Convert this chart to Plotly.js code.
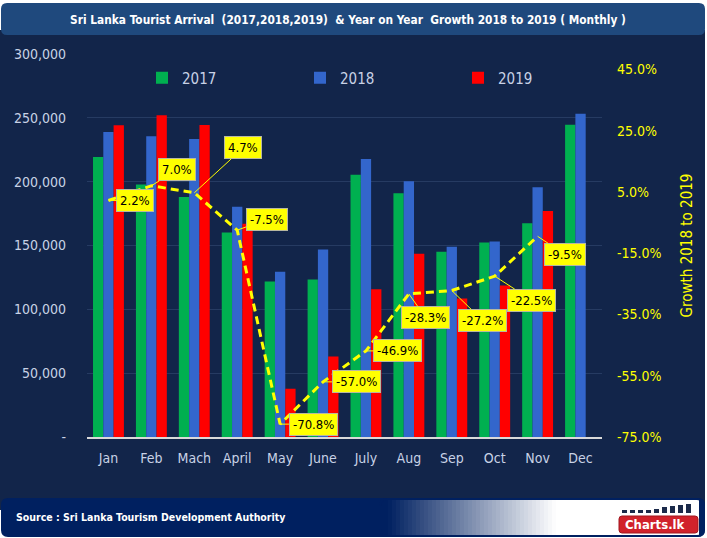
<!DOCTYPE html>
<html>
<head>
<meta charset="utf-8">
<script src="https://cdn.plot.ly/plotly-3.0.1.min.js"></script>
<style>
  html, body { margin: 0; padding: 0; background: #ffffff; }
  #chart { width: 707px; height: 538px; }
</style>
</head>
<body>
<div id="chart"></div>
<script>
// ---- data ----
const months = ['Jan','Feb','Mach','April','May','June','July','Aug','Sep','Oct','Nov','Dec'];
const arrivals2017 = [219360,197697,188076,160249,121891,123351,205482,190928,145077,152429,167511,244536];
const arrivals2018 = [238924,235618,233382,180429,129466,146828,217829,200359,149087,153123,195582,253169];
const arrivals2019 = [244239,252033,244328,166975,37802,63072,115701,143587,108575,118743,176984];
const growthMonths = ['Jan','Feb','Mach','April','May','June','July','Aug','Sep','Oct','Nov'];
const growth2018to2019 = [2.2,7.0,4.7,-7.5,-70.8,-57.0,-46.9,-28.3,-27.2,-22.5,-9.5];
const leftTickVals = [0,50000,100000,150000,200000,250000,300000];
const leftTickText = ['-','50,000','100,000','150,000','200,000','250,000','300,000'];
const rightTickVals = [-75,-55,-35,-15,5,25,45];

// ---- label offsets (pixels) for data labels ----
const labelOffsets = [[27,0],[26,-16],[49,-45],[30,-11],[33,0],[33,0],[32,0],[17,24],[31,30],[37,24],[27,18]];

// ---- layout geometry helpers ----
const W = 707, H = 538;
const PL = 87, PR = 602, PT = 54, PB = 437;
const fx = p => (p - PL) / (PR - PL);
const fy = p => (PB - p) / (PB - PT);
function rrect(x0, y0, x1, y1, r) {
  const P = (x, y) => fx(x) + ',' + fy(y);
  return 'M' + P(x0 + r, y0) + ' L' + P(x1 - r, y0) + ' Q' + P(x1, y0) + ' ' + P(x1, y0 + r) +
         ' L' + P(x1, y1 - r) + ' Q' + P(x1, y1) + ' ' + P(x1 - r, y1) +
         ' L' + P(x0 + r, y1) + ' Q' + P(x0, y1) + ' ' + P(x0, y1 - r) +
         ' L' + P(x0, y0 + r) + ' Q' + P(x0, y0) + ' ' + P(x0 + r, y0) + ' Z';
}
function rect(x0, y0, x1, y1, color, layer) {
  return {type:'rect', xref:'paper', yref:'paper', x0:fx(x0), x1:fx(x1), y0:fy(y1), y1:fy(y0),
          fillcolor:color, line:{width:0}, layer: layer || 'below'};
}

const FONT = "'DejaVu Sans Condensed', 'Roboto', sans-serif";
const TICKFONT = "'DejaVu Sans Condensed', 'Roboto', sans-serif";
const panel = '#12254a';

const shapes = [];
// dark panel
shapes.push(rect(0, 30, 705, 510, panel));
// title bar
shapes.push({type:'path', xref:'paper', yref:'paper', path: rrect(1, 3, 705, 35, 6),
             fillcolor:'#1f497d', line:{width:0}, layer:'below'});
// footer
shapes.push({type:'path', xref:'paper', yref:'paper', path: rrect(1, 498, 705, 537, 7),
             fillcolor:'#002060', line:{width:0}, layer:'below'});
const g0 = 388, g1 = 556, steps = 42;
for (let i = 0; i < steps; i++) {
  const t = (i + 0.5) / steps;
  const c = [0, 32, 96].map(v => Math.round(v + (255 - v) * t));
  shapes.push(rect(g0 + (g1 - g0) * i / steps, 499.5, g0 + (g1 - g0) * (i + 1) / steps + 0.6, 535.5,
              'rgb(' + c.join(',') + ')'));
}
shapes.push(rect(g1, 499.5, 699, 535.5, '#ffffff'));
shapes.push({type:'path', xref:'paper', yref:'paper', path: rrect(380, 499, 704, 536, 7),
             fillcolor:'rgba(0,0,0,0)', line:{color:'#002060', width:2}, layer:'below'});
// logo
shapes.push({type:'path', xref:'paper', yref:'paper', path: rrect(619, 516, 698, 533, 3),
             fillcolor:'#d1222b', line:{color:'#a01820', width:1}, layer:'above'});
const logoBars = [[622,3],[630,3],[638,3],[646,3],[654,4],[662,6],[670,7],[678,8],[686,9]];
logoBars.forEach(b => shapes.push(rect(b[0], 513 - b[1], b[0] + 5, 513, '#1b2a4a', 'above')));

const annotations = growth2018to2019.map((v, i) => ({
  x: growthMonths[i], y: v, xref:'x', yref:'y2',
  text: v.toFixed(1) + '%',
  showarrow: true, arrowhead: 0, arrowwidth: 1, arrowcolor: '#ffff00', standoff: 0,
  ax: labelOffsets[i][0], ay: labelOffsets[i][1],
  bgcolor: '#ffff00', bordercolor: '#b8b8a0', borderwidth: 1, borderpad: 3,
  font: {family: TICKFONT, size: 13, color: '#000000'}
}));
annotations.push({xref:'paper', yref:'paper', x: fx(14), y: fy(517), xanchor:'left', yanchor:'middle',
  text:'<b>Source : Sri Lanka Tourism Development Authority</b>', showarrow:false,
  font:{family: FONT, size: 10.5, color:'#ffffff'}});
annotations.push({xref:'paper', yref:'paper', x: fx(655), y: fy(524.5), xanchor:'center', yanchor:'middle',
  text:'<b>Charts.lk</b>', showarrow:false, font:{family: FONT, size: 13, color:'#ffffff'}});

const traces = [
  {type:'bar', name:'2017', x: months, y: arrivals2017, marker:{color:'#00b050'}},
  {type:'bar', name:'2018', x: months, y: arrivals2018, marker:{color:'#3366cc'}},
  {type:'bar', name:'2019', x: months, y: arrivals2019, marker:{color:'#ff0000'}},
  {type:'scatter', mode:'lines', name:'Growth', x: growthMonths, y: growth2018to2019, yaxis:'y2',
   line:{color:'#ffff00', width:3, dash:'8px,5px'}, showlegend:false}
];

const layout = {
  width: W, height: H,
  margin: {l: PL, r: W - PR, t: PT, b: H - PB, pad: 0},
  paper_bgcolor: '#ffffff', plot_bgcolor: 'rgba(0,0,0,0)',
  font: {family: TICKFONT, color: '#c8d2e6'},
  title: {text: '<b>Sri Lanka Tourist Arrival \u00a0(2017,2018,2019) \u00a0& Year on Year \u00a0Growth 2018 to 2019 ( Monthly )</b>',
          x: 348 / W, xanchor:'center', xref:'container', y: 1 - 20 / H, yanchor:'middle', yref:'container',
          font: {family: FONT, size: 11.8, color: '#ffffff'}},
  barmode: 'group', bargap: 0.28, bargroupgap: 0,
  xaxis: {type:'category', categoryorder:'array', categoryarray: months,
          showline: true, linecolor:'#d9d9d9', linewidth: 1.5, showgrid:false, ticks:'',
          tickfont:{size: 14, color:'#c8d2e6'}, ticklabelstandoff: 8},
  yaxis: {range:[0, 300000], tickvals: leftTickVals, ticktext: leftTickText,
          showgrid: true, gridcolor:'#263b62', gridwidth: 1, zeroline:false, showline:false,
          tickfont:{size: 14, color:'#c8d2e6'}, ticklabelstandoff: 20},
  yaxis2: {overlaying:'y', side:'right', range:[-75, 50], tickvals: rightTickVals,
           ticktext: rightTickVals.map(v => v.toFixed(1) + '%'),
           showgrid:false, zeroline:false, showline:false,
           tickfont:{size: 14, color:'#ffff00'}, ticklabelstandoff: 14,
           title:{text:'Growth 2018 to 2019', font:{size: 15, color:'#ffff00'}, standoff: 20}},
  legend: {orientation:'h', x: fx(142), xanchor:'left', y: fy(78), yanchor:'middle',
           entrywidth: 113, entrywidthmode:'pixels', bgcolor:'rgba(0,0,0,0)',
           font:{size: 15, color:'#c8d2e6'}, traceorder:'normal'},
  shapes: shapes,
  annotations: annotations,
  showlegend: true
};

Plotly.newPlot('chart', traces, layout, {displayModeBar: false, staticPlot: true});
</script>
</body>
</html>
